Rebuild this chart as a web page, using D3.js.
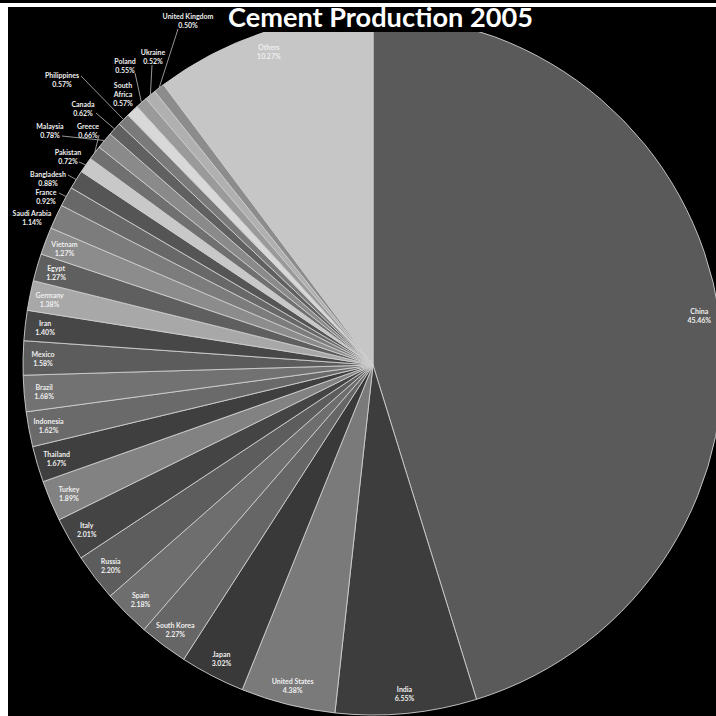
<!DOCTYPE html>
<html><head><meta charset="utf-8">
<script src="https://cdn.jsdelivr.net/npm/d3@7"></script>
<style>html,body{margin:0;padding:0;background:#fff;}svg{display:block;}</style>
</head><body>
<script>
const categories = ["China","India","United States","Japan","South Korea","Spain","Russia","Italy","Turkey","Thailand","Indonesia","Brazil","Mexico","Iran","Germany","Egypt","Vietnam","Saudi Arabia","France","Bangladesh","Pakistan","Greece","Malaysia","Canada","Philippines","South Africa","Poland","Ukraine","United Kingdom","Others"];
const shares = [45.46,6.55,4.38,3.02,2.27,2.18,2.20,2.01,1.89,1.67,1.62,1.68,1.58,1.40,1.38,1.27,1.27,1.14,0.92,0.88,0.72,0.66,0.78,0.62,0.57,0.57,0.55,0.52,0.50,10.27];
const shades = ["#5a5a5a","#3d3d3d","#7a7a7a","#393939","#666666","#6e6e6e","#5d5d5d","#444444","#828282","#3f3f3f","#6a6a6a","#727272","#5c5c5c","#474747","#a8a8a8","#5f5f5f","#8c8c8c","#7c7c7c","#686868","#555555","#c8c8c8","#707070","#8a8a8a","#606060","#7a7a7a","#d8d8d8","#9a9a9a","#b0b0b0","#8c8c8c","#c6c6c6"];
const title = "Cement Production 2005";

// layout for labels placed outside the pie (name line centre, leader start)
const outsideLabels = {
  "Saudi Arabia": {x:32, y:213},
  "France": {x:46, y:192, lx:59, ly:193},
  "Bangladesh": {x:48, y:174, lx:68, ly:175},
  "Pakistan": {x:68, y:152, lx:79, ly:162},
  "Greece": {x:88, y:126, lx:99, ly:135},
  "Malaysia": {x:50, y:126, lx:62, ly:136},
  "Canada": {x:83, y:104, lx:96, ly:113},
  "Philippines": {x:62, y:75, lx:81, ly:76},
  "South Africa": {x:123, y:85, lines:["South","Africa"]},
  "Poland": {x:125, y:61, lx:135, ly:73},
  "Ukraine": {x:153, y:52, lx:152, ly:65},
  "United Kingdom": {x:188, y:16, lx:178, ly:29}
};

const W = 716, H = 716, cx = 373, cy = 365, R = 350;
const svg = d3.select("body").append("svg").attr("width", W).attr("height", H);
svg.append("rect").attr("x",0).attr("y",0).attr("width",W).attr("height",H).attr("fill","#fff");
svg.append("rect").attr("x",0).attr("y",0).attr("width",W).attr("height",3).attr("fill","#000");
svg.append("rect").attr("x",8).attr("y",7).attr("width",W-8).attr("height",H-7).attr("fill","#000");

const data = categories.map((c,i)=>({name:c, value:shares[i], color:shades[i]}));
const pie = d3.pie().value(d=>d.value).sort(null);
const arcs = pie(data);
const arc = d3.arc().innerRadius(0).outerRadius(R);
const rimArc = d3.arc().innerRadius(R).outerRadius(R);
const labArc = d3.arc().innerRadius(330).outerRadius(330);

const g = svg.append("g").attr("transform", `translate(${cx},${cy})`);
g.selectAll("path.slice").data(arcs).join("path").attr("class","slice")
  .attr("d", arc).attr("fill", d=>d.data.color)
  .attr("stroke", "#d0d0d0").attr("stroke-width", 0.9).attr("stroke-linejoin","round");

// black title band
svg.append("rect").attr("x",8).attr("y",7).attr("width",W-8).attr("height",25).attr("fill","#000");
const t = svg.append("text").attr("x",380.5).attr("y",27).attr("text-anchor","middle")
  .attr("font-family","Lato, 'Open Sans', sans-serif").attr("font-weight","bold")
  .attr("font-size",25).attr("fill","#fff").text(title);
const tl = t.node().getComputedTextLength();
t.attr("font-size", 25*305/tl);

const fmt = v => d3.format(".2f")(v) + "%";
const font = "Lato, 'Open Sans', sans-serif";
const lab = svg.append("g").attr("font-family", font).attr("font-size", 7).attr("font-weight","bold")
  .attr("fill","#eeeeee").attr("text-anchor","middle");
const lines = svg.append("g").attr("stroke","#bdbdbd").attr("stroke-width",0.8).attr("fill","none");

arcs.forEach(a => {
  const name = a.data.name;
  const o = outsideLabels[name];
  if (o) {
    const ls = (o.lines || [name]).concat([fmt(a.data.value)]);
    ls.forEach((s,k)=>{
      lab.append("text").attr("x",o.x).attr("y",o.y + k*9 + 2.5).text(s);
    });
    if (o.lx !== undefined) {
      const p = rimArc.centroid(a);
      lines.append("line").attr("x1",o.lx).attr("y1",o.ly).attr("x2",cx+p[0]).attr("y2",cy+p[1]);
    }
  } else {
    const p = labArc.centroid(a);
    const x = cx + p[0], y = cy + p[1];
    lab.append("text").attr("x",x).attr("y",y-1.5).text(name);
    lab.append("text").attr("x",x).attr("y",y+7.5).text(fmt(a.data.value));
  }
});
</script>
</body></html>
